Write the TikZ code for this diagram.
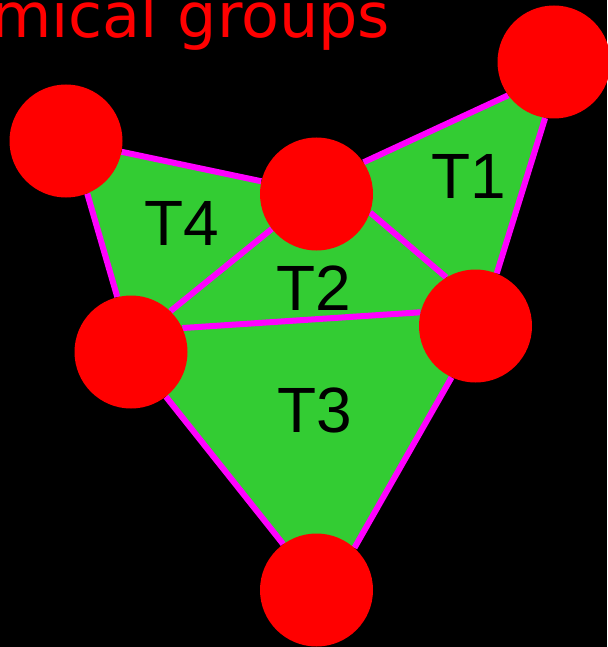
\documentclass[tikz,border=0pt]{standalone}
\usepackage{fontspec}
\setmainfont{Liberation Sans}
\newfontfamily\titlefont{DejaVu Sans}
\usepackage{xcolor}
\usetikzlibrary{positioning}
\definecolor{GroupGreen}{HTML}{33CC33}
\definecolor{BondMagenta}{HTML}{FF00FF}
\definecolor{AtomRed}{HTML}{FF0000}
\pgfdeclarelayer{back}
\pgfdeclarelayer{mid}
\pgfsetlayers{back,mid,main}

\begin{document}
\begin{tikzpicture}[
  x=1pt, y=-1pt,
  atom/.style={circle, fill=AtomRed, minimum size=113pt, inner sep=0pt},
  face/.style={fill=GroupGreen},
  bond/.style={draw=BondMagenta, line width=6pt},
  tlabel/.style={inner sep=0pt, font=\fontsize{64}{70}\selectfont}
]
\begin{pgfonlayer}{back}
\fill[black] (0,0) rectangle (607,647);
\end{pgfonlayer}
\useasboundingbox (0,0) rectangle (607,647);

\node[atom] (a) at (554,62) {};
\node[atom] (b) at (66,141) {};
\node[atom] (c) at (316.5,194) {};
\node[atom] (d) at (475.5,326) {};
\node[atom] (e) at (131,352) {};
\node[atom] (f) at (316.5,590) {};

\begin{pgfonlayer}{mid}
\fill[face] (c.34) -- (a.216.7) -- (a.261.7) -- (d.68) -- (d.121) -- (c.-19.4) -- cycle;
\fill[face] (b.-11.5) -- (c.167) -- (c.218.7) -- (e.46.3) -- (e.104) -- (b.-68) -- cycle;
\fill[face] (c.218.7) -- (c.-19.4) -- (d.121) -- (d.166.8) -- (e.25) -- (e.46.3) -- cycle;
\fill[face] (e.25) -- (d.166.8) -- (d.245.7) -- (f.48.2) -- (f.126.7) -- (e.-52.3) -- cycle;
\draw[bond] (b.-11.5) -- (c.167);
\draw[bond] (c.34) -- (a.216.7);
\draw[bond] (a.261.7) -- (d.68);
\draw[bond] (c.-19.4) -- (d.121);
\draw[bond] (c.218.7) -- (e.46.3);
\draw[bond] (b.-68) -- (e.104);
\draw[bond] (e.25) -- (d.166.8);
\draw[bond] (e.-52.3) -- (f.126.7);
\draw[bond] (d.245.7) -- (f.48.2);
\end{pgfonlayer}

\node[tlabel] (t1) at (469,176) {T1};
\node[tlabel] (t2) at (314,288) {T2};
\node[tlabel] (t3) at (315,410) {T3};
\node[tlabel] (t4) at (182,223) {T4};

\node[anchor=base west, inner sep=0pt, text=AtomRed,
  font=\titlefont\fontsize{62}{70}\selectfont] (title) at (-9,38) {mical groups};
\end{tikzpicture}
\end{document}
